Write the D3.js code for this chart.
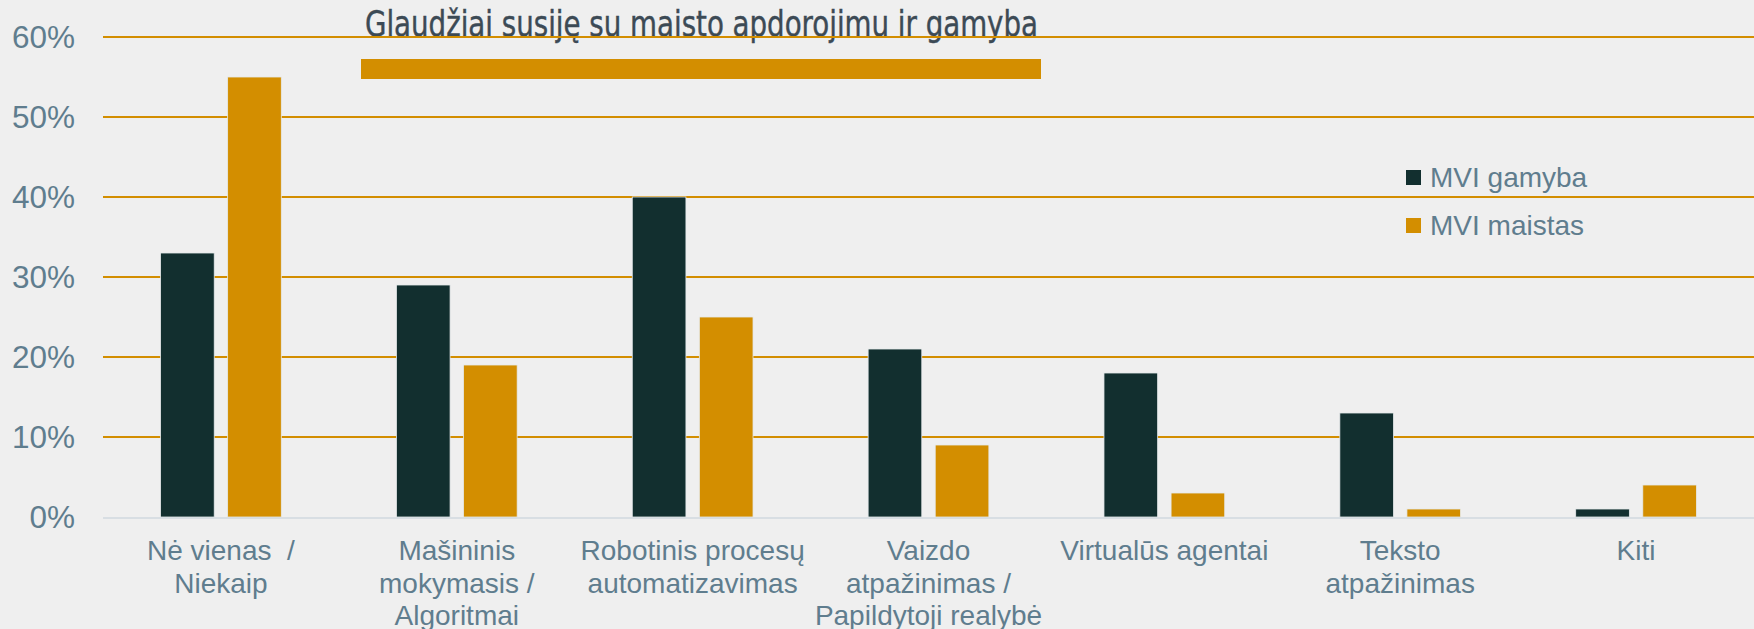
<!DOCTYPE html>
<html>
<head>
<meta charset="utf-8">
<script src="https://cdn.jsdelivr.net/npm/d3@7"></script>
<style>
  body { margin: 0; background: #efefef; }
  svg { display: block; font-family: "Liberation Sans", Arial, sans-serif; }
</style>
</head>
<body>
<div id="chart"></div>
<script>
// data
const categories = [
    ["Nė vienas  /", "Niekaip"],
    ["Mašininis", "mokymasis /", "Algoritmai"],
    ["Robotinis procesų", "automatizavimas"],
    ["Vaizdo", "atpažinimas /", "Papildytoji realybė"],
    ["Virtualūs agentai"],
    ["Teksto", "atpažinimas"],
    ["Kiti"]
];
const seriesNames = ["MVI gamyba", "MVI maistas"];
const gamyba = [33, 29, 40, 21, 18, 13, 1];
const maistas = [55, 19, 25, 9, 3, 1, 4];
const yTicks = [0, 10, 20, 30, 40, 50, 60];
const titleText = "Glaudžiai susiję su maisto apdorojimu ir gamyba";

const W = 1754, H = 629;
const colors = {gamyba: "#122f2f", maistas: "#d38e00"};
const textColor = "#5f7d8e";

let svg = d3.select("#chart")
    .append("svg")
    .attr("width", W)
    .attr("height", H);

svg.append("rect").attr("width", W).attr("height", H).attr("fill", "#efefef");

let margin = {left: 103, right: 0, top: 37, bottom: 112};

let yScale = d3.scaleLinear()
    .domain([0, 60])
    .range([H - margin.bottom, margin.top]);

let x0 = d3.scaleBand()
    .domain(d3.range(categories.length))
    .range([margin.left, W - margin.right])
    .paddingInner(0.488)
    .paddingOuter(0.244);

let x1 = d3.scaleBand()
    .domain(seriesNames)
    .range([0, x0.bandwidth()])
    .paddingInner(0.2);

let color = d3.scaleOrdinal()
    .domain(seriesNames)
    .range([colors.gamyba, colors.maistas]);

// title + underline bar
svg.append("text")
    .attr("x", 365)
    .attr("y", 36)
    .attr("textLength", 673)
    .attr("lengthAdjust", "spacingAndGlyphs")
    .style("font-family", "'Liberation Sans Narrow', 'DejaVu Sans Condensed', 'Liberation Sans', sans-serif")
    .style("font-size", "35px")
    .attr("fill", "#3c4a55")
    .attr("stroke", "#3c4a55")
    .attr("stroke-width", 0.4)
    .text(titleText);

svg.append("rect")
    .attr("x", 361)
    .attr("y", 59)
    .attr("width", 680)
    .attr("height", 20)
    .attr("fill", colors.maistas);

// gridlines
svg.append("g")
    .selectAll("line")
    .data(yTicks.filter(d => d > 0))
    .enter()
    .append("line")
    .attr("x1", margin.left)
    .attr("x2", W)
    .attr("y1", d => yScale(d))
    .attr("y2", d => yScale(d))
    .attr("stroke", colors.maistas)
    .attr("stroke-width", 2);

// y axis labels
let yAxis = d3.axisLeft(yScale)
    .tickValues(yTicks)
    .tickFormat(d => d + "%")
    .tickSize(0)
    .tickPadding(28);

let yG = svg.append("g")
    .attr("transform", `translate(${margin.left},0)`)
    .call(yAxis);
yG.select(".domain").remove();
yG.selectAll("text")
    .style("font-size", "31.5px")
    .style("font-family", "'Liberation Sans', Arial, sans-serif")
    .attr("fill", textColor);

// bars
let rows = categories.map((c, i) => ({i: i, values: [gamyba[i], maistas[i]]}));

let groups = svg.append("g")
    .selectAll("g")
    .data(rows)
    .enter()
    .append("g")
    .attr("transform", d => `translate(${x0(d.i)},0)`);

groups.selectAll("rect")
    .data(d => seriesNames.map((s, k) => ({key: s, value: d.values[k]})))
    .enter()
    .append("rect")
    .attr("x", d => x1(d.key))
    .attr("y", d => yScale(d.value))
    .attr("width", x1.bandwidth())
    .attr("height", d => yScale(0) - yScale(d.value))
    .attr("fill", d => color(d.key))
    .attr("stroke", "#e6eaec")
    .attr("stroke-width", 0.8);

// baseline
svg.append("line")
    .attr("x1", margin.left)
    .attr("x2", W)
    .attr("y1", yScale(0) + 1)
    .attr("y2", yScale(0) + 1)
    .attr("stroke", "#d8dee3")
    .attr("stroke-width", 2);

// x labels
let xLabels = svg.append("g")
    .selectAll("text")
    .data(categories)
    .enter()
    .append("text")
    .attr("x", (d, i) => x0(i) + x0.bandwidth() / 2)
    .attr("y", 560)
    .attr("text-anchor", "middle")
    .style("font-size", "28px")
    .style("white-space", "pre")
    .attr("fill", textColor);

xLabels.selectAll("tspan")
    .data(d => d)
    .enter()
    .append("tspan")
    .attr("x", function () { return d3.select(this.parentNode).attr("x"); })
    .attr("dy", (d, i) => i === 0 ? 0 : 32.5)
    .text(d => d);

// legend
let legend = svg.append("g")
    .attr("transform", "translate(1406,170)");

let legendItems = legend.selectAll("g")
    .data(seriesNames)
    .enter()
    .append("g")
    .attr("transform", (d, i) => `translate(0,${i * 48})`);

legendItems.append("rect")
    .attr("width", 15)
    .attr("height", 15)
    .attr("fill", d => color(d));

legendItems.append("text")
    .attr("x", 24)
    .attr("y", 7.5)
    .attr("dy", "0.35em")
    .style("font-size", "28px")
    .attr("fill", textColor)
    .text(d => d);
</script>
</body>
</html>
